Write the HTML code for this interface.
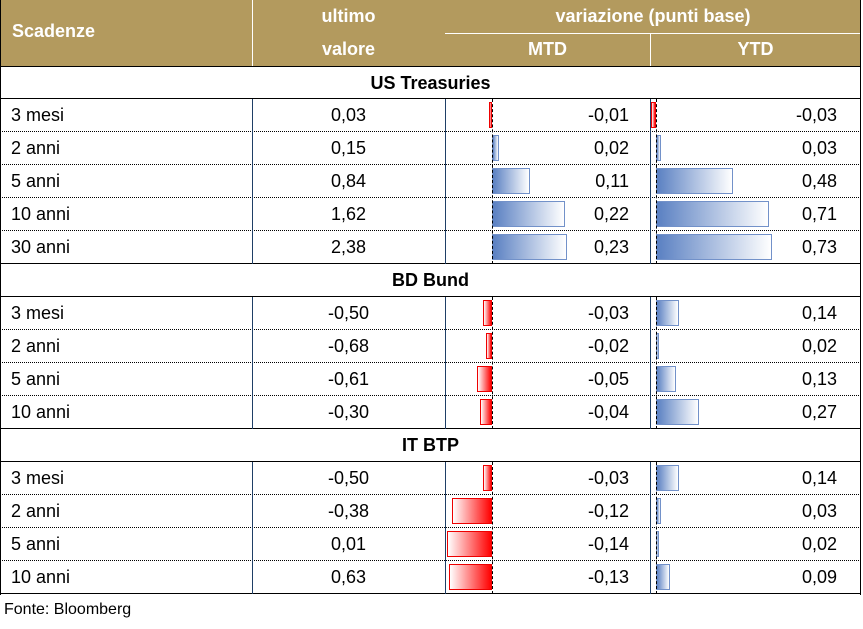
<!DOCTYPE html>
<html><head><meta charset="utf-8"><style>
body{margin:0;width:863px;height:629px;background:#fff;font-family:"Liberation Sans",sans-serif;position:relative;overflow:hidden}
.a{position:absolute}
.hd{position:absolute;left:0;top:0;width:861px;height:66px;background:#b39a5e;color:#fff;font-weight:bold;font-size:18px}
.r{position:absolute;left:0;width:861px;height:33px;border-bottom:1px dotted #000;box-sizing:border-box}
.r .n{position:absolute;left:11px;top:6px;font-size:18px}
.r .v{position:absolute;left:252px;width:193px;text-align:center;top:6px;font-size:18px}
.r .m{position:absolute;right:232px;top:6px;font-size:18px}
.r .y{position:absolute;right:24px;top:6px;font-size:18px}
.b{position:absolute;top:3px;height:26px;box-sizing:border-box}
.neg{background:linear-gradient(to right,#fff,#f00);border:1px solid #e00}
.pos{background:linear-gradient(to right,#5a80c2,#fff);border:1px solid #7291c9}
.s{position:absolute;left:0;width:861px;height:33px;text-align:center;font-weight:bold;font-size:18px;line-height:33px;border-bottom:1px solid #000;box-sizing:border-box}
.vl{position:absolute;width:1px;background:#1f3f66}
.zl{position:absolute;width:0;border-left:1px dashed #000}
</style></head><body>
<div class="hd">
<div class="a" style="left:12px;top:21px">Scadenze</div>
<div class="a" style="left:252px;width:193px;text-align:center;top:6px">ultimo</div>
<div class="a" style="left:252px;width:193px;text-align:center;top:39px">valore</div>
<div class="a" style="left:445px;width:416px;text-align:center;top:6px">variazione (punti base)</div>
<div class="a" style="left:445px;width:205px;text-align:center;top:39px">MTD</div>
<div class="a" style="left:650px;width:211px;text-align:center;top:39px">YTD</div>
<div class="a" style="left:252px;top:0;width:1px;height:66px;background:#fff"></div>
<div class="a" style="left:445px;top:33px;width:416px;height:1px;background:#fff"></div>
<div class="a" style="left:650px;top:33px;width:1px;height:33px;background:#fff"></div>
</div>
<div class="a" style="left:0;top:66px;width:861px;height:1px;background:#000"></div>
<div class="s" style="top:67px;height:32px;line-height:32px">US Treasuries</div>

<div class="r" style="top:99px"><span class="n">3 mesi</span><span class="v">0,03</span><div class="b neg" style="left:489px;width:3px"></div><span class="m">-0,01</span><div class="b neg" style="left:651px;width:5px"></div><span class="y">-0,03</span></div>
<div class="r" style="top:132px"><span class="n">2 anni</span><span class="v">0,15</span><div class="b pos" style="left:492px;width:7px"></div><span class="m">0,02</span><div class="b pos" style="left:656px;width:5px"></div><span class="y">0,03</span></div>
<div class="r" style="top:165px"><span class="n">5 anni</span><span class="v">0,84</span><div class="b pos" style="left:492px;width:38px"></div><span class="m">0,11</span><div class="b pos" style="left:656px;width:77px"></div><span class="y">0,48</span></div>
<div class="r" style="top:198px"><span class="n">10 anni</span><span class="v">1,62</span><div class="b pos" style="left:492px;width:73px"></div><span class="m">0,22</span><div class="b pos" style="left:656px;width:113px"></div><span class="y">0,71</span></div>
<div class="r" style="top:231px;border-bottom:1px solid #000"><span class="n">30 anni</span><span class="v">2,38</span><div class="b pos" style="left:492px;width:75px"></div><span class="m">0,23</span><div class="b pos" style="left:656px;width:116px"></div><span class="y">0,73</span></div>
<div class="s" style="top:264px">BD Bund</div>
<div class="r" style="top:297px"><span class="n">3 mesi</span><span class="v">-0,50</span><div class="b neg" style="left:483px;width:9px"></div><span class="m">-0,03</span><div class="b pos" style="left:656px;width:23px"></div><span class="y">0,14</span></div>
<div class="r" style="top:330px"><span class="n">2 anni</span><span class="v">-0,68</span><div class="b neg" style="left:486px;width:6px"></div><span class="m">-0,02</span><div class="b pos" style="left:656px;width:3px"></div><span class="y">0,02</span></div>
<div class="r" style="top:363px"><span class="n">5 anni</span><span class="v">-0,61</span><div class="b neg" style="left:477px;width:15px"></div><span class="m">-0,05</span><div class="b pos" style="left:656px;width:20px"></div><span class="y">0,13</span></div>
<div class="r" style="top:396px;border-bottom:1px solid #000"><span class="n">10 anni</span><span class="v">-0,30</span><div class="b neg" style="left:480px;width:12px"></div><span class="m">-0,04</span><div class="b pos" style="left:656px;width:43px"></div><span class="y">0,27</span></div>
<div class="s" style="top:429px">IT BTP</div>
<div class="r" style="top:462px"><span class="n">3 mesi</span><span class="v">-0,50</span><div class="b neg" style="left:483px;width:9px"></div><span class="m">-0,03</span><div class="b pos" style="left:656px;width:23px"></div><span class="y">0,14</span></div>
<div class="r" style="top:495px"><span class="n">2 anni</span><span class="v">-0,38</span><div class="b neg" style="left:452px;width:40px"></div><span class="m">-0,12</span><div class="b pos" style="left:656px;width:5px"></div><span class="y">0,03</span></div>
<div class="r" style="top:528px"><span class="n">5 anni</span><span class="v">0,01</span><div class="b neg" style="left:447px;width:45px"></div><span class="m">-0,14</span><div class="b pos" style="left:656px;width:3px"></div><span class="y">0,02</span></div>
<div class="r" style="top:561px;border-bottom:1px solid #000"><span class="n">10 anni</span><span class="v">0,63</span><div class="b neg" style="left:449px;width:43px"></div><span class="m">-0,13</span><div class="b pos" style="left:656px;width:14px"></div><span class="y">0,09</span></div>

<div class="vl" style="left:252px;top:99px;height:165px"></div>
<div class="vl" style="left:445px;top:99px;height:165px"></div>
<div class="vl" style="left:650px;top:99px;height:165px"></div>
<div class="vl" style="left:252px;top:297px;height:132px"></div>
<div class="vl" style="left:445px;top:297px;height:132px"></div>
<div class="vl" style="left:650px;top:297px;height:132px"></div>
<div class="vl" style="left:252px;top:462px;height:132px"></div>
<div class="vl" style="left:445px;top:462px;height:132px"></div>
<div class="vl" style="left:650px;top:462px;height:132px"></div>
<div class="zl" style="left:492px;top:99px;height:165px"></div>
<div class="zl" style="left:656px;top:99px;height:165px"></div>
<div class="zl" style="left:492px;top:297px;height:132px"></div>
<div class="zl" style="left:656px;top:297px;height:132px"></div>
<div class="zl" style="left:492px;top:462px;height:132px"></div>
<div class="zl" style="left:656px;top:462px;height:132px"></div>
<div class="a" style="left:860px;top:0;width:1px;height:595px;background:#000"></div>
<div class="a" style="left:0;top:0;width:1px;height:595px;background:#000"></div>
<div class="a" style="left:4px;top:601px;font-size:16px">Fonte: Bloomberg</div>
</body></html>
